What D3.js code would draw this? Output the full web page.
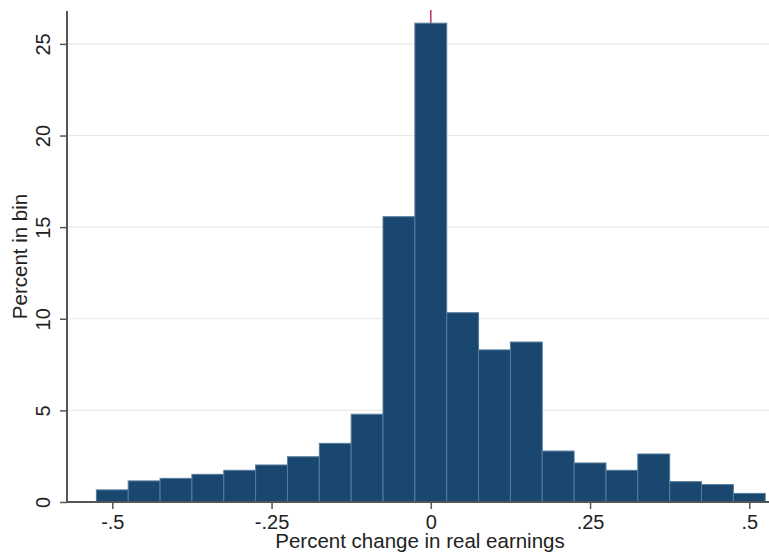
<!DOCTYPE html>
<html>
<head>
<meta charset="utf-8">
<script src="https://cdn.jsdelivr.net/npm/d3@7"></script>
<style>
  html, body { margin: 0; padding: 0; background: #fff; }
  svg { display: block; }
  text { font-family: "Liberation Sans", Arial, sans-serif; }
</style>
</head>
<body>
<svg id="chart" width="769" height="557"></svg>
<script>
// Bin centres (bin width 0.05) and percent of observations in each bin
const binCenters = [-0.5, -0.45, -0.4, -0.35, -0.3, -0.25, -0.2, -0.15, -0.1, -0.05,
                    0, 0.05, 0.1, 0.15, 0.2, 0.25, 0.3, 0.35, 0.4, 0.45, 0.5];
const percentInBin = [0.66, 1.15, 1.29, 1.51, 1.73, 2.02, 2.47, 3.2, 4.79, 15.57,
                      26.13, 10.33, 8.3, 8.73, 2.78, 2.13, 1.73, 2.62, 1.11, 0.95, 0.47];
const binWidth = 0.05;
const xTicks = [-0.5, -0.25, 0, 0.25, 0.5];
const xTickLabels = ["-.5", "-.25", "0", ".25", ".5"];
const yTicks = [0, 5, 10, 15, 20, 25];
const refLineX = 0;
const xTitle = "Percent change in real earnings";
const yTitle = "Percent in bin";

const svg = d3.select("#chart");
const plotLeft = 67, plotRight = 769, plotTop = 11, plotBottom = 502;

const x = d3.scaleLinear().domain([-0.5, 0.5]).range([112.3, 749.3]);
const y = d3.scaleLinear().domain([0, 25]).range([plotBottom, 43.9]);

// gridlines
svg.append("g").selectAll("line")
  .data(yTicks.filter(d => d > 0))
  .join("line")
  .attr("x1", plotLeft).attr("x2", plotRight)
  .attr("y1", d => y(d)).attr("y2", d => y(d))
  .attr("stroke", "#e9e9e9").attr("stroke-width", 1.2);

// reference line at 0 (behind bars)
svg.append("line")
  .attr("x1", x(refLineX)).attr("x2", x(refLineX))
  .attr("y1", plotTop - 1).attr("y2", plotBottom)
  .attr("stroke", "#c4305e").attr("stroke-width", 1.5);

// bars
const data = binCenters.map((c, i) => ({ c, v: percentInBin[i] }));
svg.append("g").selectAll("rect")
  .data(data)
  .join("rect")
  .attr("x", d => x(d.c - binWidth / 2))
  .attr("width", d => x(d.c + binWidth / 2) - x(d.c - binWidth / 2))
  .attr("y", d => y(d.v))
  .attr("height", d => y(0) - y(d.v))
  .attr("fill", "#1a476f")
  .attr("stroke", "#557c9c")
  .attr("stroke-width", 1);

// y axis
const yAxis = d3.axisLeft(y).tickValues(yTicks).tickSize(7).tickPadding(10).tickFormat(d3.format("d"));
const gy = svg.append("g").attr("transform", `translate(${plotLeft},0)`).call(yAxis);
gy.select(".domain").remove();
gy.selectAll(".tick line").attr("stroke", "#555").attr("stroke-width", 1.5);
gy.selectAll(".tick text")
  .attr("font-size", 20).attr("fill", "#222")
  .attr("x", -17).attr("y", 0).attr("dy", null)
  .attr("text-anchor", "middle")
  .attr("transform", "rotate(-90, -17, 0)");
svg.append("line")
  .attr("x1", plotLeft).attr("x2", plotLeft)
  .attr("y1", plotTop).attr("y2", plotBottom + 1)
  .attr("stroke", "#555").attr("stroke-width", 2);

// x axis
const xAxis = d3.axisBottom(x).tickValues(xTicks).tickSize(7).tickPadding(6)
  .tickFormat((d, i) => xTickLabels[i]);
const gx = svg.append("g").attr("transform", `translate(0,${plotBottom})`).call(xAxis);
gx.select(".domain").remove();
gx.selectAll(".tick line").attr("stroke", "#555").attr("stroke-width", 1.5);
gx.selectAll(".tick text").attr("font-size", 20).attr("fill", "#222").attr("dy", null).attr("y", 27);
svg.append("line")
  .attr("x1", plotLeft - 1).attr("x2", plotRight)
  .attr("y1", plotBottom).attr("y2", plotBottom)
  .attr("stroke", "#555").attr("stroke-width", 2);

// titles
svg.append("text")
  .attr("x", (plotLeft + plotRight) / 2 + 2).attr("y", 548)
  .attr("text-anchor", "middle").attr("font-size", 20.5).attr("fill", "#222")
  .text(xTitle);
svg.append("text")
  .attr("transform", `translate(27, ${(plotTop + plotBottom) / 2}) rotate(-90)`)
  .attr("text-anchor", "middle").attr("font-size", 20.5).attr("fill", "#222")
  .text(yTitle);
</script>
</body>
</html>
